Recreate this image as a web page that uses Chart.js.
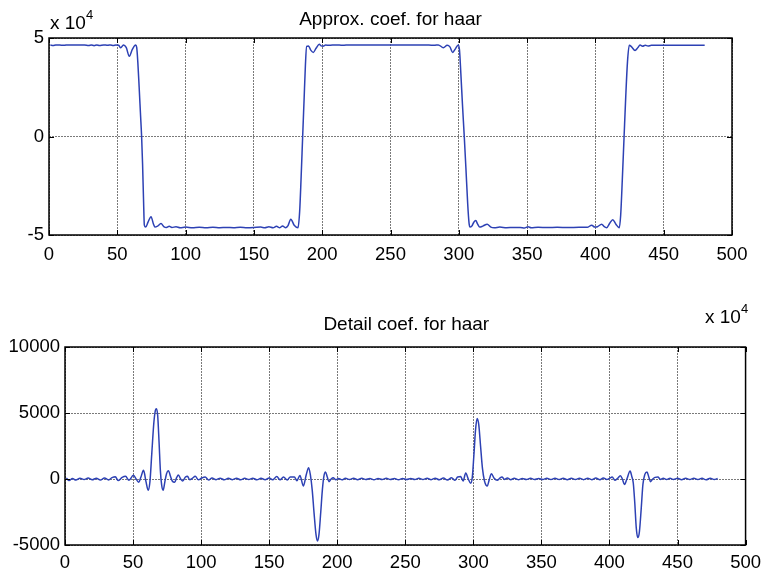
<!DOCTYPE html>
<html>
<head>
<meta charset="utf-8">
<script src="https://cdn.jsdelivr.net/npm/chart.js@4.4.1/dist/chart.umd.min.js"></script>
<style>
  html, body { margin: 0; padding: 0; background: #fff; }
  #wrap { position: relative; width: 768px; height: 571px; }
  canvas { position: absolute; left: 0; }
</style>
</head>
<body>
<div id="wrap">
  <canvas id="approx" width="768" height="290" style="top:0;width:768px;height:290px"></canvas>
  <canvas id="detail" width="768" height="281" style="top:290px;width:768px;height:281px"></canvas>
</div>
<script>
// axis ticks
const xTicks = [0, 50, 100, 150, 200, 250, 300, 350, 400, 450, 500]
const xTickLabels = ['0', '50', '100', '150', '200', '250', '300', '350', '400', '450', '500']
const approxYTicks = [-50000, 0, 50000]
const approxYLabels = ['-5', '0', '5']
const detailYTicks = [-5000, 0, 5000, 10000]
const detailYLabels = ['-5000', '0', '5000', '10000']

// approximation coefficients (top)
const approxX = [
  1, 3, 5, 8, 11, 14, 18, 22, 26, 29, 31, 33, 35, 37, 40, 43, 45, 47, 49, 51,
  52.5, 54.5, 56.5, 58.8, 61, 63.4, 64.2, 65, 66, 67, 67.8, 68.5, 69.2, 69.8, 70.8, 72.5,
  74.7, 76.5, 77.6, 79.5, 82, 84, 86, 88, 90, 93, 96, 100, 105, 110, 115, 120,
  125, 130, 135, 140, 145, 150, 155, 158, 161, 164, 166.5, 169, 171, 173, 175, 177,
  179.5, 182.3, 183.5, 184.5, 185.7, 186.7, 187.7, 188.6, 190, 191.5, 193.5, 195.5, 197.9, 199.3,
  200.6, 202.5, 205, 210, 215, 220, 225, 230, 240, 250, 260, 270, 278, 282, 285,
  288.7, 291.5, 293.5, 295.5, 297.5, 299.6, 300.5, 301.5, 302.7, 304, 305.2, 306.5, 307.5, 308.2,
  309.5, 311, 312.4, 313.8, 315.3, 317.5, 320.8, 323.5, 326, 330, 335, 340, 345, 348,
  350.7, 353, 358, 365, 372, 380, 388, 394, 397.3, 399.5, 401.5, 404.6, 406.5, 408.2,
  410.5, 412.7, 415, 417.5, 418.5, 419.7, 421, 422.2, 423.5, 424.8, 426.5, 429, 431, 432.7,
  434.5, 436.5, 438.5, 441, 450, 460, 470, 480,
]
const approxY = [
  46400, 46200, 46500, 46400, 46300, 46500, 46400, 46400, 46500, 46200, 46500, 46100, 46500, 46200, 46500, 46300, 46500, 46200, 46500, 46300,
  45000, 46500, 45200, 40700, 44200, 46400, 45200, 38000, 25000, 11000, 0, -14000, -32000, -45000, -46000, -43500,
  -40700, -44500, -46000, -45500, -44200, -45700, -46200, -45600, -46200, -45800, -46300, -46000, -46300, -46100, -46300, -46100,
  -46300, -46200, -46300, -46100, -46300, -46200, -46000, -46300, -45800, -46300, -45600, -46300, -45400, -46300, -45200, -42000,
  -45000, -46300, -38000, -22000, 0, 18000, 36000, 45800, 46000, 44000, 42700, 44800, 46800, 46000,
  45800, 46400, 46300, 46500, 46300, 46500, 46400, 46400, 46400, 46400, 46400, 46400, 46400, 46300, 46500,
  45100, 46300, 45500, 42700, 44500, 46500, 44000, 32000, 16000, 0, -16000, -34000, -44000, -46000,
  -45500, -43500, -42700, -44500, -46000, -45500, -44500, -46000, -46300, -46000, -46300, -46200, -46200, -46400,
  -45800, -46300, -46100, -46200, -46100, -46200, -46100, -46100, -45000, -46000, -45800, -44500, -45800, -46300,
  -44000, -42200, -44500, -46300, -40000, -22000, 0, 20000, 38000, 46300, 45500, 43700, 45000, 46400,
  45800, 46300, 45900, 46300, 46300, 46300, 46300, 46300,
]

// detail coefficients (bottom)
const detailX = [
  1, 3, 5.5, 8, 11, 14, 17, 20, 23, 26, 29, 32, 34.5, 37, 39, 42, 44.5, 47, 50.2, 52,
  54.1, 55.8, 57.7, 59.5, 61.1, 62.4, 63.8, 65.3, 66.4, 67.2, 68.1, 69.1, 70.1, 71, 72.1, 73.3,
  74.6, 76, 77.5, 78.8, 80.6, 82, 83.3, 85, 86.5, 88.5, 90, 91.6, 93.5, 95.7, 98, 100.5,
  103, 105.5, 108, 111, 114, 117, 120, 123, 126, 129, 132, 135, 138, 141, 144, 147,
  150, 152.5, 155.6, 158, 160.5, 163.3, 165.5, 168.5, 170.4, 172.6, 175.1, 177.2, 179, 180.3, 181.6, 183,
  184.4, 185.5, 186.6, 187.9, 189.1, 190.2, 191.4, 192.7, 193.9, 195.4, 197, 199, 201, 203.5, 206, 209,
  212, 215, 218, 221, 224, 227, 230, 233, 236, 239, 242, 245, 248, 251, 254, 257,
  260, 263, 266, 269, 272, 275, 278, 281, 284, 286.5, 288.5, 290.7, 292.5, 294.4, 296.3, 298,
  299.2, 300.4, 301.6, 302.8, 304, 305.3, 306.7, 308.2, 310.2, 311.7, 313.3, 315.3, 317.6, 319.3, 321, 323,
  325, 327.5, 330, 333, 336, 339, 342, 345, 348, 351, 354, 357, 360, 363, 366, 369,
  372, 375, 378, 381, 384, 387, 390, 393, 395.5, 398, 400, 402, 404, 406, 408, 409.5,
  411, 412.8, 415.2, 416.4, 417.5, 418.6, 419.7, 420.8, 422, 423.3, 424.6, 426, 427.6, 428.9, 430.2, 431.8,
  433.5, 435.6, 437.5, 439.5, 442, 444.5, 447, 450, 453, 456, 459, 462, 465, 468, 471, 474,
  477, 479.5,
]
const detailY = [
  80, -120, 40, -80, 60, -40, 70, -60, 60, -80, 80, -70, 100, 170, -120, 120, 200, -100, 280, 50,
  -250, 150, 660, -200, -850, -200, 2000, 4300, 5200, 5330, 4800, 2800, 600, -450, -850, -250,
  400, 620, 200, -150, -250, 100, 300, 0, -150, 150, 200, -50, 50, 200, -60, 80,
  150, -80, 80, -50, 60, -60, 50, -50, 60, -60, 50, -40, 60, -60, 50, -50,
  80, -60, 180, -60, 150, -80, 160, 150, -130, 270, -530, 300, 860, 300, -800, -2600,
  -4200, -4700, -4200, -2500, -800, 200, 530, 150, -200, -20, 100, -60, 40, -60, 50, -40,
  50, -50, 50, -40, 40, -50, 40, -40, 50, -40, 40, -50, 40, -40, 40, -40,
  50, -40, 50, -50, 60, -60, 70, -80, 100, -100, 150, 180, -150, 450, 0, -320,
  100, 1800, 3700, 4580, 4100, 2500, 800, -150, -530, -50, 400, 50, -100, 50, 150, -30,
  80, -50, 60, -50, 40, -40, 50, -40, 40, -40, 50, -40, 50, -40, 50, -50,
  50, -40, 60, -50, 60, -50, 70, -60, 80, -40, 50, 150, -100, 50, 250, 0,
  -420, 0, 600, 200, -300, -1800, -3700, -4440, -4000, -2300, -400, 350, 530, 150, -200, 0,
  120, 150, -30, 60, -40, 60, -30, 50, -50, 50, -40, 50, -40, 50, -60, 60,
  -40, 40,
]

const FONT = "'Liberation Sans', Arial, Helvetica, sans-serif"
const LINE_COLOR = 'rgb(45, 65, 180)'
const GRID_COLOR = '#7a7a7a'

// box, inward ticks, titles and exponent labels like a matlab axes
const matlabFrame = {
  id: 'matlabFrame',
  afterDraw(chart, args, opts) {
    const { ctx, chartArea: a, scales } = chart
    ctx.save()
    ctx.strokeStyle = '#000'
    ctx.lineWidth = 1.5
    ctx.strokeRect(a.left, a.top, a.right - a.left, a.bottom - a.top)

    ctx.lineWidth = 1
    ctx.beginPath()
    scales.x.ticks.forEach((t) => {
      const px = Math.round(scales.x.getPixelForValue(t.value)) + 0.5
      ctx.moveTo(px, a.bottom); ctx.lineTo(px, a.bottom - 5)
      ctx.moveTo(px, a.top); ctx.lineTo(px, a.top + 5)
    })
    scales.y.ticks.forEach((t) => {
      const py = Math.round(scales.y.getPixelForValue(t.value)) + 0.5
      ctx.moveTo(a.left, py); ctx.lineTo(a.left + 5, py)
      ctx.moveTo(a.right, py); ctx.lineTo(a.right - 5, py)
    })
    ctx.stroke()

    ctx.fillStyle = '#000'
    ctx.textBaseline = 'alphabetic'
    ctx.font = `19px ${FONT}`
    ctx.textAlign = 'center'
    ctx.fillText(opts.title, (a.left + a.right) / 2 + opts.titleDx, opts.titleY)

    ctx.textAlign = 'left'
    ctx.fillText('x 10', opts.expX, opts.expY)
    ctx.font = `13px ${FONT}`
    ctx.fillText('4', opts.expX + 36, opts.expY - 10)
    ctx.restore()
  },
}

const makeChart = (canvasId, xs, ys, cfg) => {
  const canvas = document.getElementById(canvasId)
  const W = canvas.width
  const H = canvas.height
  const points = xs.map((x, i) => ({ x: x, y: ys[i] }))

  return new Chart(canvas.getContext('2d'), {
    type: 'line',
    data: {
      datasets: [
        {
          data: points,
          borderColor: LINE_COLOR,
          borderWidth: 1.5,
          pointRadius: 0,
          fill: false,
          cubicInterpolationMode: 'monotone',
        },
      ],
    },
    plugins: [matlabFrame],
    options: {
      responsive: false,
      animation: false,
      events: [],
      layout: {
        padding: { left: 0, top: cfg.area.top, right: W - cfg.area.right, bottom: 0 },
      },
      plugins: {
        legend: { display: false },
        tooltip: { enabled: false },
        title: { display: false },
        matlabFrame: cfg.frame,
      },
      scales: {
        x: {
          type: 'linear',
          min: 0,
          max: 500,
          afterBuildTicks: (scale) => {
            scale.ticks = xTicks.map((v) => ({ value: v }))
          },
          afterFit: (scale) => {
            scale.height = H - cfg.area.bottom
          },
          ticks: {
            autoSkip: false,
            maxRotation: 0,
            padding: cfg.xPad,
            color: '#000',
            font: { family: FONT, size: 18.5 },
            callback: (value, index) => xTickLabels[index],
          },
          grid: { color: GRID_COLOR, lineWidth: 1, drawTicks: false },
          border: { display: false, dash: [2, 1] },
        },
        y: {
          type: 'linear',
          min: cfg.yTicks[0],
          max: cfg.yTicks[cfg.yTicks.length - 1],
          afterBuildTicks: (scale) => {
            scale.ticks = cfg.yTicks.map((v) => ({ value: v }))
          },
          afterFit: (scale) => {
            scale.width = cfg.area.left
          },
          ticks: {
            padding: 5,
            color: '#000',
            font: { family: FONT, size: 18.5 },
            callback: (value, index) => cfg.yLabels[index],
          },
          grid: { color: GRID_COLOR, lineWidth: 1, drawTicks: false },
          border: { display: false, dash: [2, 1] },
        },
      },
    },
  })
}

makeChart('approx', approxX, approxY, {
  area: { left: 49, top: 38, right: 732, bottom: 235 },
  yTicks: approxYTicks,
  yLabels: approxYLabels,
  xPad: 9,
  frame: { title: 'Approx. coef. for haar', titleY: 25, titleDx: 0, expX: 50, expY: 29 },
})

makeChart('detail', detailX, detailY, {
  area: { left: 65, top: 57, right: 750, bottom: 255 },
  yTicks: detailYTicks,
  yLabels: detailYLabels,
  xPad: 7,
  frame: { title: 'Detail coef. for haar', titleY: 40, titleDx: 1, expX: 705, expY: 33 },
})
</script>
</body>
</html>
